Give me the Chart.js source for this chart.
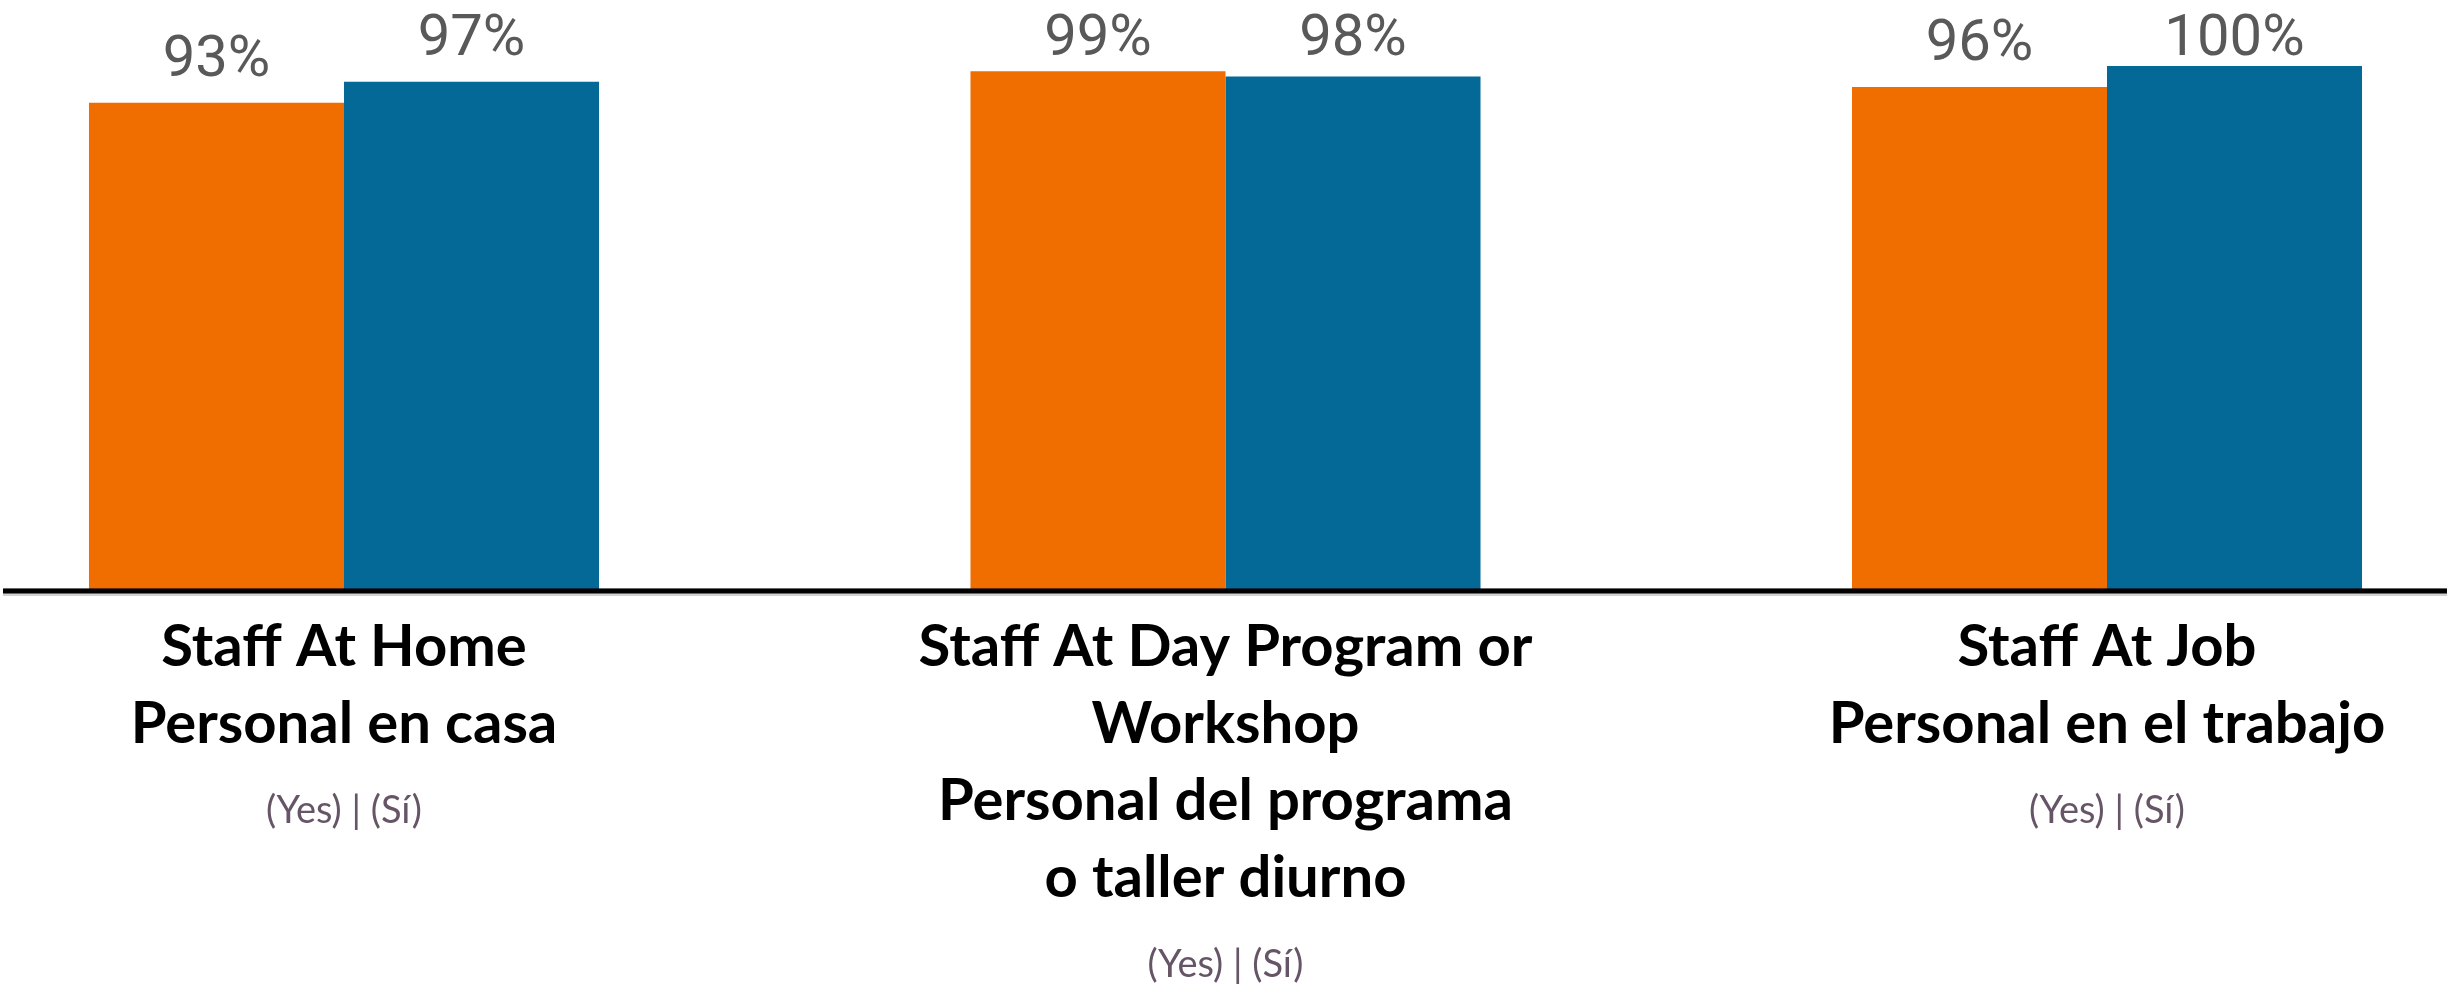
<!DOCTYPE html>
<html>
<head>
<meta charset="utf-8">
<script src="https://cdn.jsdelivr.net/npm/chart.js@4/dist/chart.umd.min.js"></script>
<style>
  html, body { margin: 0; padding: 0; background: #fff; }
  #wrap { width: 2451px; height: 995px; }
</style>
</head>
<body>
<div id="wrap"><canvas id="myChart" width="2451" height="995"></canvas></div>
<script>
// categories (multi-line x labels) and the small grey line under each
var categories = [
    ["Staff At Home", "Personal en casa"],
    ["Staff At Day Program or", "Workshop", "Personal del programa", "o taller diurno"],
    ["Staff At Job", "Personal en el trabajo"]
];
var subLabels = ["(Yes) | (Sí)", "(Yes) | (Sí)", "(Yes) | (Sí)"];

// percent values
var orangeValues = [93, 99, 96];
var blueValues = [97, 98, 100];

var ORANGE = '#F06D00';
var BLUE = '#056997';

// value labels above the bars
var valueLabels = {
    id: 'valueLabels',
    afterDatasetsDraw: function(chart) {
        var ctx = chart.ctx;
        ctx.save();
        ctx.font = '58px Roboto';
        ctx.fillStyle = '#595959';
        ctx.textAlign = 'center';
        ctx.textBaseline = 'alphabetic';
        chart.data.datasets.forEach(function(ds, di) {
            chart.getDatasetMeta(di).data.forEach(function(bar, i) {
                var y = Math.max(bar.y - 27, 55);
                ctx.fillText(ds.data[i] + '%', bar.x, y);
            });
        });
        ctx.restore();
    }
};

// thick black baseline across the whole width + "(Yes) | (Sí)" lines
var axisExtras = {
    id: 'axisExtras',
    afterDatasetsDraw: function(chart) {
        var ctx = chart.ctx;
        var y0 = chart.scales.y.getPixelForValue(0);
        ctx.save();
        ctx.strokeStyle = 'rgba(0,0,0,0.18)';
        ctx.lineWidth = 8;
        ctx.beginPath();
        ctx.moveTo(3, y0 + 1);
        ctx.lineTo(2447, y0 + 1);
        ctx.stroke();
        ctx.strokeStyle = '#000';
        ctx.lineWidth = 5;
        ctx.beginPath();
        ctx.moveTo(3, y0);
        ctx.lineTo(2447, y0);
        ctx.stroke();
        ctx.restore();
    },
    afterDraw: function(chart) {
        var ctx = chart.ctx;
        var xs = chart.scales.x;
        var y0 = chart.scales.y.getPixelForValue(0);
        ctx.save();
        ctx.font = '38px Lato';
        ctx.fillStyle = '#665566';
        ctx.textAlign = 'center';
        ctx.textBaseline = 'middle';
        subLabels.forEach(function(t, i) {
            var n = categories[i].length;
            var y = y0 + 18 + 38.5 + (n - 1) * 77 + 86;
            ctx.fillText(t, xs.getPixelForTick(i), y);
        });
        ctx.restore();
    }
};

window.onload = function() {
    var ctx = document.getElementById('myChart').getContext('2d');

    window.myBar = new Chart(ctx, {
        type: 'bar',
        data: {
            labels: categories,
            datasets: [
                { label: 'Series 1', data: orangeValues, backgroundColor: ORANGE, clip: false },
                { label: 'Series 2', data: blueValues, backgroundColor: BLUE, clip: false }
            ]
        },
        options: {
            responsive: false,
            animation: false,
            devicePixelRatio: 1,
            categoryPercentage: 0.5786,
            barPercentage: 1.0,
            layout: { padding: { left: 344, right: 344, top: 66, bottom: 0 } },
            plugins: {
                legend: { display: false },
                title: { display: false },
                tooltip: { enabled: false }
            },
            scales: {
                x: {
                    offset: false,
                    grid: { display: false, drawTicks: false },
                    border: { display: false },
                    ticks: {
                        autoSkip: false,
                        maxRotation: 0,
                        minRotation: 0,
                        padding: 18,
                        color: '#000',
                        font: { family: 'Lato', weight: 'bold', size: 58, lineHeight: '77px' }
                    },
                    afterFit: function(scale) { scale.height = 404; }
                },
                y: {
                    display: false,
                    min: 0,
                    max: 100
                }
            }
        },
        plugins: [valueLabels, axisExtras]
    });
};
</script>
</body>
</html>
